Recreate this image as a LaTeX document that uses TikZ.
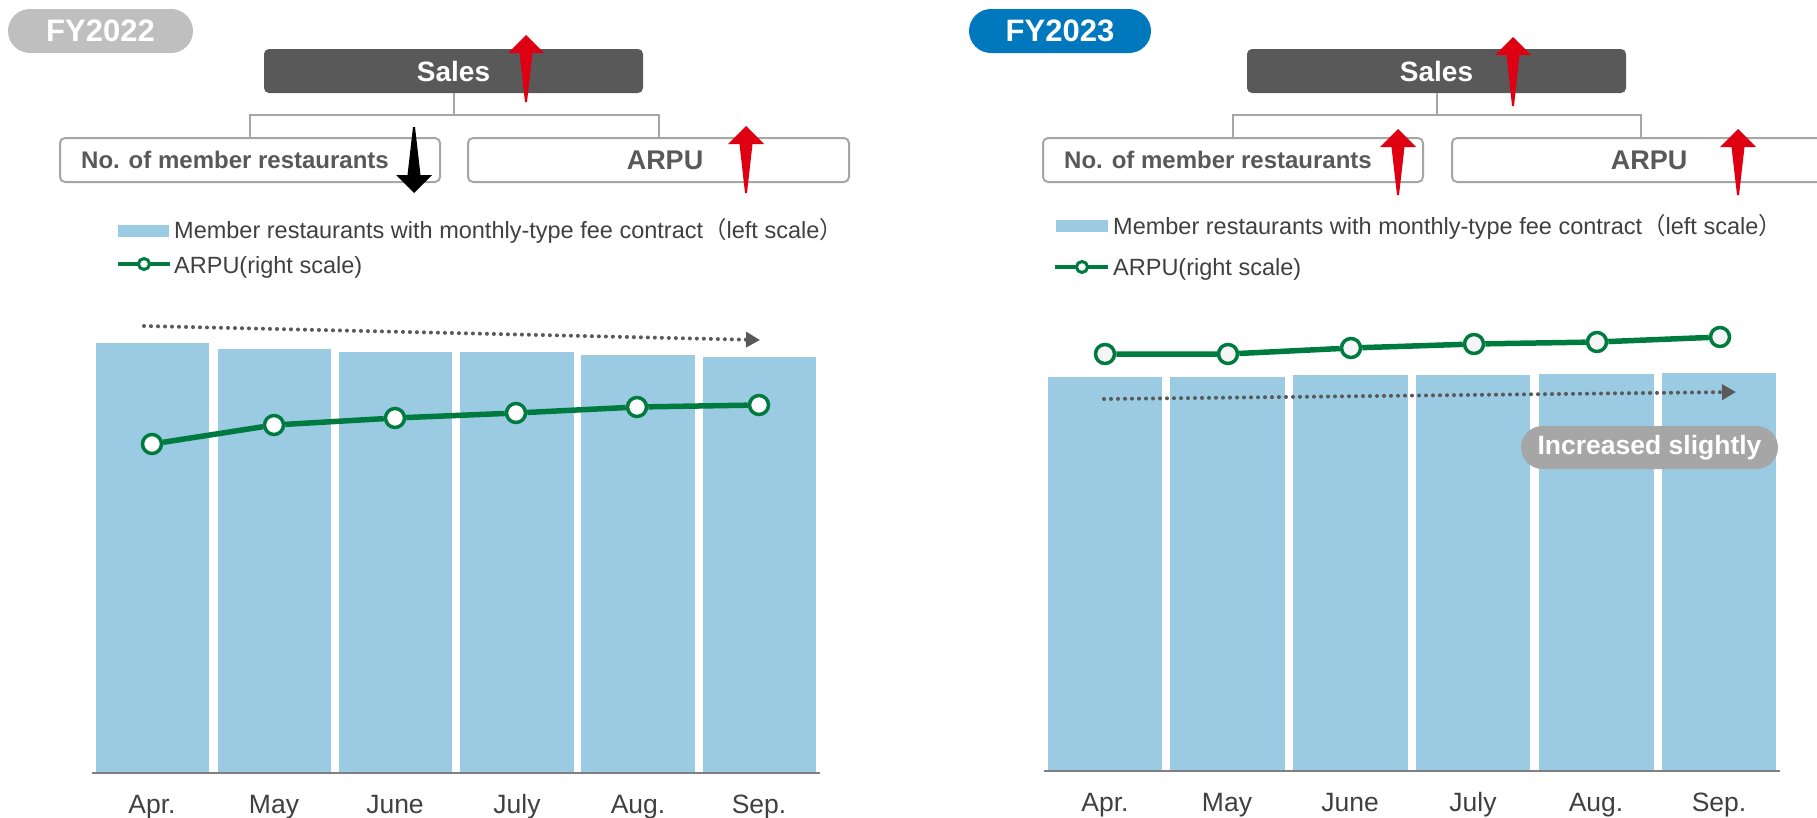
\documentclass[tikz,border=0pt]{standalone}
\usepackage{fontspec}
\setmainfont{Liberation Sans}
\newfontfamily\cjk{Noto Sans CJK JP}
\usetikzlibrary{arrows.meta}

\definecolor{pillgray}{RGB}{191,191,191}
\definecolor{pillblue}{RGB}{0,120,190}
\definecolor{boxdark}{RGB}{89,89,89}
\definecolor{linegray}{RGB}{166,166,166}
\definecolor{barblue}{RGB}{155,203,227}
\definecolor{arpugreen}{RGB}{0,123,63}
\definecolor{upred}{RGB}{222,0,18}
\definecolor{txtgray}{RGB}{64,64,64}
\definecolor{axisgray}{RGB}{128,128,128}

\newcommand\fsz[1]{\fontsize{#1}{#1}\selectfont}

% tapered trend arrows: x, tip y, tail y
\newcommand\trendup[4][upred]{%
  \fill[#1] (#2,#3) -- (#2+18,#3+18) -- (#2+6.5,#3+18) -- (#2+1,#4)
    -- (#2-1,#4) -- (#2-6.5,#3+18) -- (#2-18,#3+18) -- cycle;}
\newcommand\trenddown[4][black]{%
  \fill[#1] (#2,#4) -- (#2+18,#4-18) -- (#2+6.5,#4-18) -- (#2+1,#3)
    -- (#2-1,#3) -- (#2-6.5,#4-18) -- (#2-18,#4-18) -- cycle;}

\tikzset{
  pill/.style={rounded corners=22, minimum height=44, inner sep=0,
    text=white, font=\fsz{31}\bfseries},
  salesbox/.style={fill=boxdark, rounded corners=5, minimum width=379,
    minimum height=44, inner sep=0, text=white, font=\fsz{28}\bfseries},
  kpibox/.style={draw=linegray, line width=2, fill=white, rounded corners=5,
    minimum height=44, inner sep=0},
  kpitext/.style={inner sep=0, text=boxdark, font=\fsz{24}\bfseries},
  arputext/.style={inner sep=0, text=boxdark, font=\fsz{27}\bfseries},
  tree/.style={draw=linegray, line width=2},
  legtext/.style={anchor=base west, inner sep=0, text=txtgray, font=\fsz{23.5}},
  month/.style={anchor=base, inner sep=0, text=txtgray, font=\fsz{26.5}},
  bar/.style={fill=barblue},
  axis/.style={draw=axisgray, line width=2},
  arpuline/.style={draw=arpugreen, line width=5.5, line join=round},
  marker/.style={circle, draw=arpugreen, line width=3.5, fill=white,
    minimum size=19, inner sep=0},
  legmarker/.style={circle, draw=arpugreen, line width=3, fill=white,
    minimum size=11, inner sep=0},
  trend/.style={draw=boxdark, line width=4, line cap=round,
    dash pattern=on 0pt off 7pt, -{Triangle[length=14,width=15]}},
  note/.style={fill=linegray, rounded corners=21.5, minimum width=257,
    minimum height=43, inner sep=0, text=white, font=\fsz{26.5}\bfseries},
}

\begin{document}
\begin{tikzpicture}[x=1pt, y=-1pt]
\useasboundingbox (0,0) rectangle (1817,817);

%% ---------------- FY2022 ----------------
\node[pill, fill=pillgray, minimum width=185] (fy22) at (100.5,31) {FY2022};

\node[salesbox] (s22) at (453.5,71) {Sales};
\node[kpibox, minimum width=380] (n22) at (250,160) {};
\node[kpibox, minimum width=381] (a22) at (658.5,160) {};
\node[kpitext, anchor=west] (n22t) at (81,160) {No. of member restaurants};
\node[arputext] (a22t) at (665,160) {ARPU};
\draw[tree] (s22.south) -- ++(0,22) -| (n22.north);
\draw[tree] (s22.south) -- ++(0,22) -| (a22.north);

\trendup{526}{35}{102}
\trenddown{414}{127}{193}
\trendup{746}{126}{193}

% legend
\fill[bar] (118,225) rectangle (169,237);
\node[legtext] (l22a) at (174,238) {Member restaurants with monthly-type fee contract{\cjk（}left scale{\cjk）}};
\coordinate (l22s) at (118,264);
\coordinate (l22e) at (170,264);
\draw[arpuline, line width=4.5] (l22s) -- (l22e);
\node[legmarker] (l22m) at (144,264) {};
\node[legtext] (l22b) at (174,273) {ARPU(right scale)};

% bars
\fill[bar] (96,343) rectangle (209,773);
\fill[bar] (218,349) rectangle (331,773);
\fill[bar] (339,352) rectangle (452,773);
\fill[bar] (460,352) rectangle (574,773);
\fill[bar] (581,355) rectangle (695,773);
\fill[bar] (703,357) rectangle (816,773);
\coordinate (x22a) at (92,773);
\coordinate (x22b) at (820,773);
\draw[axis] (x22a) -- (x22b);

\coordinate (t22a) at (144,326);
\coordinate (t22b) at (760,340);
\draw[trend] (t22a) -- (t22b);

% ARPU series
\node[marker] (m221) at (152,444) {};
\node[marker] (m222) at (274,425) {};
\node[marker] (m223) at (395,418) {};
\node[marker] (m224) at (516,413) {};
\node[marker] (m225) at (637,407) {};
\node[marker] (m226) at (759,405) {};
\draw[arpuline] (m221) -- (m222) -- (m223) -- (m224) -- (m225) -- (m226);

\node[month] (mo221) at (152,813) {Apr.};
\node[month] (mo222) at (274,813) {May};
\node[month] (mo223) at (395,813) {June};
\node[month] (mo224) at (517,813) {July};
\node[month] (mo225) at (638,813) {Aug.};
\node[month] (mo226) at (759,813) {Sep.};

%% ---------------- FY2023 ----------------
\node[pill, fill=pillblue, minimum width=182] (fy23) at (1060,31) {FY2023};

\node[salesbox] (s23) at (1436.5,71) {Sales};
\node[kpibox, minimum width=380] (n23) at (1233,160) {};
\node[kpibox, minimum width=378] (a23) at (1641,160) {};
\node[kpitext, anchor=west] (n23t) at (1064,160) {No. of member restaurants};
\node[arputext] (a23t) at (1649,160) {ARPU};
\draw[tree] (s23.south) -- ++(0,22) -| (n23.north);
\draw[tree] (s23.south) -- ++(0,22) -| (a23.north);

\trendup{1513}{37}{106}
\trendup{1398}{129}{195}
\trendup{1738}{129}{195}

% legend
\fill[bar] (1056,220) rectangle (1108,232);
\node[legtext] (l23a) at (1113,234) {Member restaurants with monthly-type fee contract{\cjk（}left scale{\cjk）}};
\coordinate (l23s) at (1055,267);
\coordinate (l23e) at (1108,267);
\draw[arpuline, line width=4.5] (l23s) -- (l23e);
\node[legmarker] (l23m) at (1082,267) {};
\node[legtext] (l23b) at (1113,275) {ARPU(right scale)};

% bars
\fill[bar] (1048,377) rectangle (1162,771);
\fill[bar] (1170,377) rectangle (1285,771);
\fill[bar] (1293,375) rectangle (1408,771);
\fill[bar] (1416,375) rectangle (1530,771);
\fill[bar] (1539,374) rectangle (1654,771);
\fill[bar] (1662,373) rectangle (1776,771);
\coordinate (x23a) at (1044,771);
\coordinate (x23b) at (1780,771);
\draw[axis] (x23a) -- (x23b);

\coordinate (t23a) at (1104,399);
\coordinate (t23b) at (1736,392);
\draw[trend] (t23a) -- (t23b);

% ARPU series
\node[marker, fill=gray!8] (m231) at (1105,354) {};
\node[marker, fill=gray!8] (m232) at (1228,354) {};
\node[marker, fill=gray!8] (m233) at (1351,348) {};
\node[marker, fill=gray!8] (m234) at (1474,344) {};
\node[marker, fill=gray!8] (m235) at (1597,342) {};
\node[marker, fill=gray!8] (m236) at (1720,337) {};
\draw[arpuline] (m231) -- (m232) -- (m233) -- (m234) -- (m235) -- (m236);

\node[note] (inc) at (1649.5,447.5) {Increased slightly};

\node[month] (mo231) at (1105,811) {Apr.};
\node[month] (mo232) at (1227,811) {May};
\node[month] (mo233) at (1350,811) {June};
\node[month] (mo234) at (1473,811) {July};
\node[month] (mo235) at (1596,811) {Aug.};
\node[month] (mo236) at (1719,811) {Sep.};
\end{tikzpicture}
\end{document}
